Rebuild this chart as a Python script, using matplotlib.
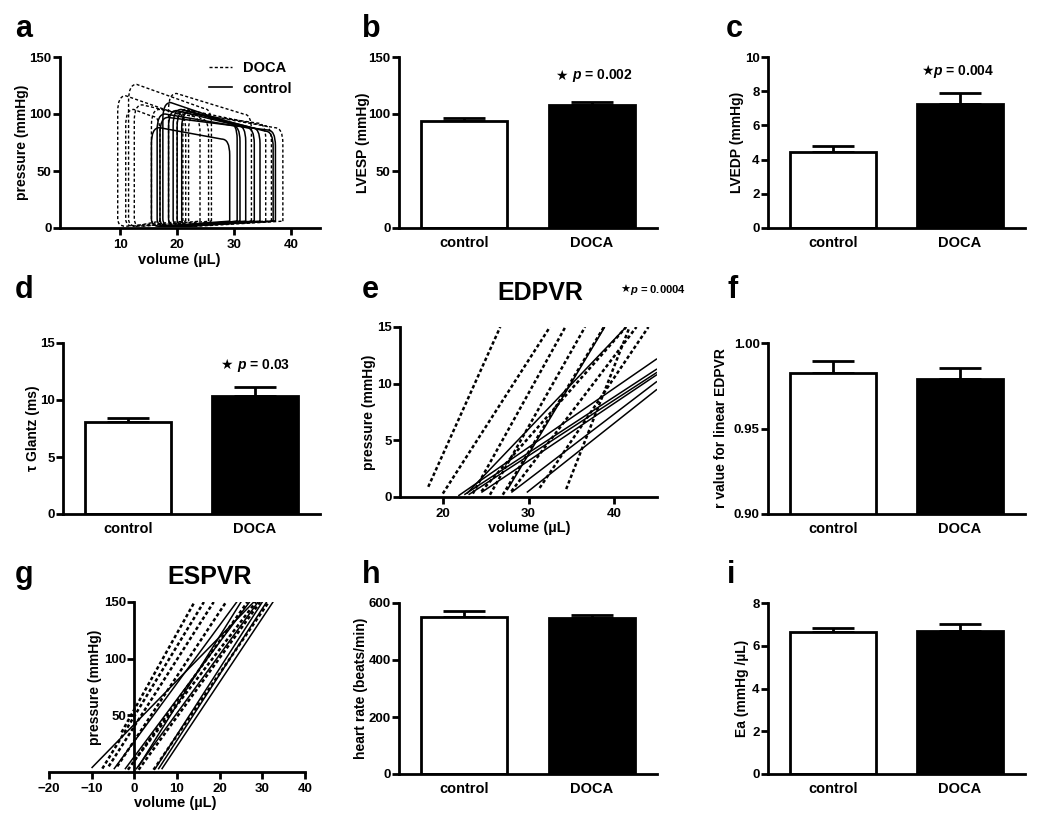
import matplotlib
matplotlib.use('Agg')
import matplotlib.pyplot as plt
from matplotlib.path import Path
from matplotlib.patches import PathPatch
from matplotlib.lines import Line2D

plt.rcParams['font.family'] = ['Liberation Sans', 'DejaVu Sans']
plt.rcParams['font.weight'] = 'bold'
plt.rcParams['axes.labelweight'] = 'bold'
plt.rcParams['mathtext.fontset'] = 'custom'
plt.rcParams['mathtext.it'] = 'Liberation Sans:italic:bold'
plt.rcParams['mathtext.rm'] = 'Liberation Sans:bold'

# ---------------- data ----------------
groups = ['control', 'DOCA']

lvesp_mean = [94.1, 107.9]
lvesp_err = [2.4, 2.4]
lvedp_mean = [4.46, 7.25]
lvedp_err = [0.35, 0.63]
tau_mean = [8.07, 10.38]
tau_err = [0.35, 0.72]
r_mean = [0.9823, 0.9789]
r_err = [0.0074, 0.0067]
hr_mean = [552, 547]
hr_err = [19, 10]
ea_mean = [6.63, 6.70]
ea_err = [0.20, 0.30]

# PV loops: end-systolic volume, end-diastolic volume, top-left pressure, top-right pressure
doca_esv = [9.6, 11.5, 11.0, 12.5, 18.5, 15.5, 20.0, 22.0, 21.0]
doca_edv = [21.5, 26.0, 17.0, 24.0, 33.0, 35.5, 36.5, 38.5, 25.5]
doca_pl = [116, 126, 104, 108, 118, 104, 104, 100, 104]
doca_pr = [100, 105, 98, 98, 100, 92, 90, 88, 96]
ctrl_esv = [15.5, 16.5, 17.5, 18.5, 19.3, 20.0, 20.8, 17.0]
ctrl_edv = [29.2, 31.0, 32.0, 33.5, 34.5, 36.8, 30.5, 37.2]
ctrl_pl = [88, 100, 110, 103, 104, 103, 102, 97]
ctrl_pr = [78, 90, 90, 88, 88, 85, 92, 86]

# EDPVR lines (v0, p0, v1, p1)
edpvr_doca = [(18.3, 0.9, 26.7, 15), (20.0, 0.3, 32.5, 15), (23.5, 0.3, 34.3, 15),
              (25.5, 0.2, 36.6, 15), (27.0, 0.2, 38.8, 15), (24.5, 0.5, 41.4, 15),
              (28.0, 0.5, 42.6, 15), (31.3, 0.8, 44.0, 15), (34.4, 0.7, 41.8, 15)]
edpvr_ctrl = [(21.8, 0.1, 45, 12.2), (22.5, 0.2, 45, 11.3), (23.0, 0.2, 45, 11.0),
              (24.5, 0.4, 45, 10.8), (28.0, 0.4, 45, 10.2), (29.8, 0.4, 45, 9.5),
              (27.5, 0.6, 38.9, 15), (22.8, 0.3, 41.4, 15)]

# ESPVR lines (v0, p0, v1, p1)
espvr_doca = [(-3.0, 35, 14.1, 150), (-7.5, 3, 16.3, 150), (-6.0, 5, 18.6, 150),
              (-4.0, 5, 21.5, 150), (-1.5, 2, 26.5, 150), (1.0, 2, 29.5, 150),
              (4.5, 2, 31.5, 150), (0.0, 10, 28.5, 150)]
espvr_ctrl = [(-9.9, 4, 28.0, 150), (-4.7, 3, 24.0, 150), (-2.1, 3, 27.0, 150),
              (0.5, 3, 29.0, 150), (4.9, 3, 30.0, 150), (5.7, 3, 31.0, 150),
              (6.5, 3, 32.5, 150), (1.0, 5, 25.0, 150)]

# p-value annotations: (star x, text left x, y, text, size)
pvals = [(561, 572, 76, '$p$ = 0.002', 10), (927, 933, 71, '$p$ = 0.004', 10),
         (226, 237, 365, '$p$ = 0.03', 10), (625, 630, 290, '$p$ = 0.0004', 8)]

# ---------------- figure ----------------
W, H = 1050, 819
fig = plt.figure(figsize=(W / 100, H / 100), dpi=100)


def add_ax(left, right, top, bottom):
    return fig.add_axes([left / W, 1 - bottom / H, (right - left) / W, (bottom - top) / H])


def style(ax, xticks=True):
    for s in ['top', 'right']:
        ax.spines[s].set_visible(False)
    for s in ['left', 'bottom']:
        ax.spines[s].set_linewidth(2)
    ax.tick_params(axis='y', direction='out', length=5, width=2, labelsize=9.5, pad=1)
    if xticks:
        ax.tick_params(axis='x', direction='out', length=5, width=2, labelsize=9.5, pad=3)
    else:
        ax.tick_params(axis='x', length=0, labelsize=10.5, pad=6)


def ylab(ax, text, px, left, right):
    ax.set_ylabel(text, fontsize=10, fontweight='bold')
    ax.yaxis.label.set_verticalalignment('center')
    ax.yaxis.set_label_coords((px - left) / (right - left), 0.5)


def xlab(ax, text, px, py, left, right, top, bottom):
    ax.set_xlabel(text, fontsize=10.5, fontweight='bold')
    ax.xaxis.label.set_verticalalignment('center')
    ax.xaxis.set_label_coords((px - left) / (right - left), (bottom - py) / (bottom - top))


def bar_panel(box, means, errs, ylim, yticks, ylabel, ylabel_px, fmt=None):
    left, right, top, bottom = box
    ax = add_ax(*box)
    x = [0, 1]
    ax.errorbar(x, means, yerr=[[0, 0], errs], fmt='none', ecolor='black',
                elinewidth=2, capsize=15, capthick=2, zorder=1)
    ax.bar(x, means, width=0.67, color=['white', 'black'], edgecolor='black',
           linewidth=2, zorder=2)
    ax.set_xlim(-0.51, 1.51)
    ax.set_ylim(*ylim)
    ax.set_yticks(yticks)
    if fmt:
        ax.set_yticklabels([fmt.format(t) for t in yticks])
    ax.set_xticks(x)
    ax.set_xticklabels(groups, fontweight='bold')
    style(ax, xticks=False)
    ylab(ax, ylabel, ylabel_px, left, right)
    return ax


def loop_path(esv, edv, pl, pr):
    rv, rp = 1.4, 14
    verts = [(edv, 6), (edv, pr - rp), (edv, pr), (edv - rv, pr),
             (esv + rv, pl), (esv, pl), (esv, pl - rp),
             (esv, 8), (esv, 1.5), (esv + rv, 1.5), (edv, 6)]
    codes = [Path.MOVETO, Path.LINETO, Path.CURVE3, Path.CURVE3,
             Path.LINETO, Path.CURVE3, Path.CURVE3,
             Path.LINETO, Path.CURVE3, Path.CURVE3, Path.LINETO]
    return Path(verts, codes)


dash_a = (0, (2.2, 1.6))
dash_e = (0, (1.4, 1.0))

# ---- panel a ----
box = (60, 320, 57, 228)
ax = add_ax(*box)
for e1, e2, a1, a2 in zip(doca_esv, doca_edv, doca_pl, doca_pr):
    ax.add_patch(PathPatch(loop_path(e1, e2, a1, a2), fill=False, lw=1.0,
                           ls=dash_a, edgecolor='black'))
for e1, e2, a1, a2 in zip(ctrl_esv, ctrl_edv, ctrl_pl, ctrl_pr):
    ax.add_patch(PathPatch(loop_path(e1, e2, a1, a2), fill=False, lw=1.1,
                           ls='-', edgecolor='black'))
ax.set_xlim(-0.5, 45)
ax.set_ylim(0, 150)
ax.set_xticks([10, 20, 30, 40])
ax.set_yticks([0, 50, 100, 150])
style(ax)
ylab(ax, 'pressure (mmHg)', 22, 60, 320)
xlab(ax, 'volume (µL)', 179, 260, 60, 320, 57, 228)
handles = [Line2D([], [], color='black', lw=1.0, ls=dash_a),
           Line2D([], [], color='black', lw=1.2)]
ax.legend(handles, ['DOCA', 'control'], loc='upper left', frameon=False,
          bbox_to_anchor=((209 - 60) / 260, (228 - 61) / 171), borderaxespad=0,
          borderpad=0, handlelength=1.6, handletextpad=0.7, labelspacing=0.45,
          prop={'weight': 'bold', 'size': 10.5})

# ---- panel b ----
ax = bar_panel((399, 657, 57, 228), lvesp_mean, lvesp_err, (0, 150), [0, 50, 100, 150],
               'LVESP (mmHg)', 363)
# ---- panel c ----
ax = bar_panel((768, 1025, 57, 228), lvedp_mean, lvedp_err, (0, 10), [0, 2, 4, 6, 8, 10],
               'LVEDP (mmHg)', 737)
# ---- panel d ----
ax = bar_panel((63, 320, 343, 514), tau_mean, tau_err, (0, 15), [0, 5, 10, 15],
               'τ Glantz (ms)', 33)
# ---- panel f ----
ax = bar_panel((768, 1025, 343, 514), r_mean, r_err, (0.90, 1.00), [0.90, 0.95, 1.00],
               'r value for linear EDPVR', 721, fmt='{:.2f}')
# ---- panel h ----
ax = bar_panel((399, 657, 603, 774), hr_mean, hr_err, (0, 600), [0, 200, 400, 600],
               'heart rate (beats/min)', 361)
# ---- panel i ----
ax = bar_panel((768, 1025, 603, 774), ea_mean, ea_err, (0, 8), [0, 2, 4, 6, 8],
               'Ea (mmHg /µL)', 742)

# ---- panel e ----
box = (400, 657, 327, 497)
ax = add_ax(*box)
for v0, p0, v1, p1 in edpvr_ctrl:
    ax.plot([v0, v1], [p0, p1], color='black', lw=1.1, solid_capstyle='butt')
for v0, p0, v1, p1 in edpvr_doca:
    ax.plot([v0, v1], [p0, p1], color='black', lw=1.8, ls=dash_e)
ax.set_xlim(15, 45)
ax.set_ylim(0, 15)
ax.set_xticks([20, 30, 40])
ax.set_yticks([0, 5, 10, 15])
style(ax)
ylab(ax, 'pressure (mmHg)', 369, 400, 657)
xlab(ax, 'volume (µL)', 529, 528, 400, 657, 327, 497)

# ---- panel g ----
box = (49, 305, 602, 772)
ax = add_ax(*box)
for v0, p0, v1, p1 in espvr_ctrl:
    ax.plot([v0, v1], [p0, p1], color='black', lw=1.1)
for v0, p0, v1, p1 in espvr_doca:
    ax.plot([v0, v1], [p0, p1], color='black', lw=1.8, ls=dash_e)
ax.set_xlim(-20, 40)
ax.set_ylim(0, 150)
ax.spines['left'].set_position(('data', 0))
ax.set_xticks([-20, -10, 0, 10, 20, 30, 40])
ax.set_yticks([50, 100, 150])
style(ax)
ylab(ax, 'pressure (mmHg)', 95, 49, 305)
xlab(ax, 'volume (µL)', 175, 803, 49, 305, 602, 772)

# ---- titles, p values, panel letters ----
def ftext(px, py, s, **kw):
    fig.text(px / W, 1 - py / H, s, **kw)

ftext(540, 293, 'EDPVR', fontsize=18, fontweight='bold', ha='center', va='center')
ftext(210, 577, 'ESPVR', fontsize=18, fontweight='bold', ha='center', va='center')

for sx, tx, py, s, fs in pvals:
    ftext(sx, py, '★', fontsize=fs, family='DejaVu Sans', ha='center', va='center')
    ftext(tx, py, s, fontsize=fs, fontweight='bold', ha='left', va='center')

letters = [('a', 15, 37), ('b', 362, 37), ('c', 726, 37),
           ('d', 15, 298), ('e', 362, 298), ('f', 727, 298),
           ('g', 15, 583), ('h', 362, 583), ('i', 727, 583)]
for s, px, py in letters:
    ftext(px, py, s, fontsize=22, fontweight='bold', ha='left', va='baseline')

fig.savefig('out.png', dpi=100)
